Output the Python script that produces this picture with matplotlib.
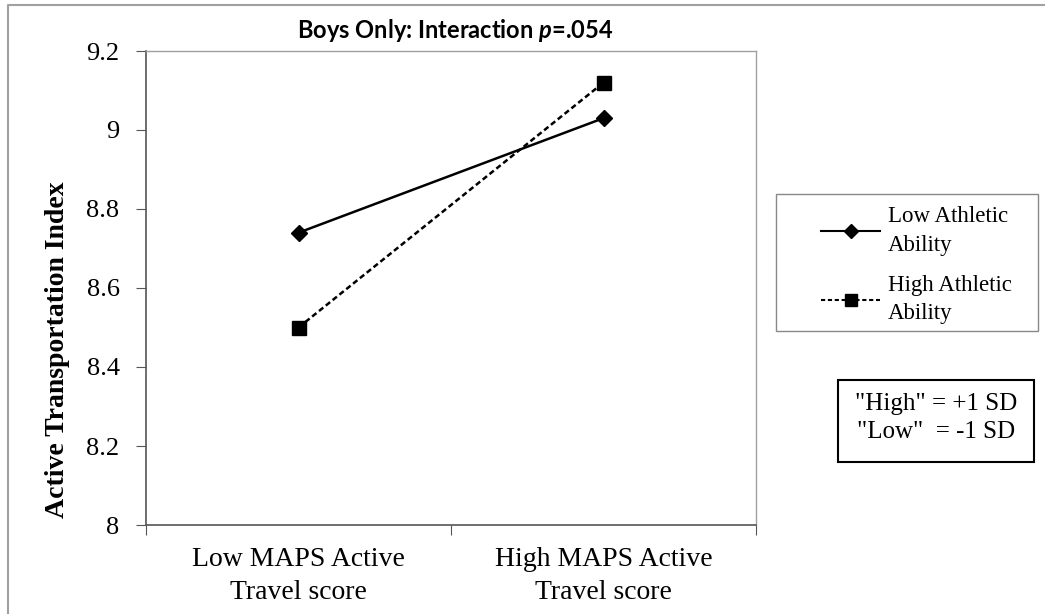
import matplotlib.pyplot as plt
import matplotlib.patches as patches
from matplotlib.lines import Line2D

categories = ["Low MAPS Active\nTravel score", "High MAPS Active\nTravel score"]
low_athletic = [8.74, 9.03]
high_athletic = [8.50, 9.12]
series_names = ["Low Athletic\nAbility", "High Athletic\nAbility"]
yticks = [8, 8.2, 8.4, 8.6, 8.8, 9, 9.2]
ytick_labels = ["8", "8.2", "8.4", "8.6", "8.8", "9", "9.2"]

plt.rcParams["font.family"] = "Liberation Serif"
plt.rcParams["mathtext.fontset"] = "custom"
plt.rcParams["mathtext.it"] = "Lato:italic:bold"
plt.rcParams["mathtext.bf"] = "Lato:bold"
plt.rcParams["mathtext.rm"] = "Lato:bold"

W, H = 1045, 614
fig = plt.figure(figsize=(W / 100, H / 100), dpi=100)
ax = fig.add_axes([146 / W, 1 - 525 / H, 610 / W, 474 / H])

x = [0.5, 1.5]
dash = (0, (2.2, 1.3))
ax.plot(x, low_athletic, color="black", lw=1.8, marker="D", ms=8.5)
ax.plot(x, high_athletic, color="black", lw=1.8, ls=dash, marker="s", ms=10)

ax.set_xlim(0, 2)
ax.set_ylim(8, 9.2)
ax.set_xticks([0, 1, 2])
ax.set_xticklabels([])
ax.set_xticks(x, minor=True)
ax.set_xticklabels(categories, minor=True, fontsize=20)
ax.tick_params(axis="x", which="minor", length=0, pad=16)
ax.tick_params(axis="x", which="major", length=7, direction="out", color="#555555")
ax.set_yticks(yticks)
ax.set_yticklabels(ytick_labels, fontsize=19)
ax.tick_params(axis="y", length=7, direction="out", color="#555555", pad=12)
for t in ax.get_xticklabels(minor=True):
    t.set_linespacing(1.4)

for s in ["top", "right"]:
    ax.spines[s].set_color("#a0a0a0")
    ax.spines[s].set_linewidth(1)
for s in ["left", "bottom"]:
    ax.spines[s].set_color("#555555")
    ax.spines[s].set_linewidth(1.2)

fig.text(58 / W, 1 - 350 / H, "Active Transportation Index", rotation=90,
         ha="center", va="center", fontsize=20, fontweight="bold")

fig.text(455 / W, 1 - 31 / H, "Boys Only: Interaction $\\it{p}$=.054",
         ha="center", va="center", fontfamily="Lato", fontsize=17, fontweight="bold")

# legend box
fig.patches.append(patches.Rectangle((776 / W, 1 - 331 / H), 262 / W, 137 / H,
                                     transform=fig.transFigure, fill=False,
                                     ec="#888888", lw=1))
handles = [
    Line2D([], [], color="black", lw=1.5, marker="D", ms=7),
    Line2D([], [], color="black", lw=1.5, ls=(0, (2, 1.3)), marker="s", ms=9),
]
leg = fig.legend(handles, series_names, loc="upper left",
                 bbox_to_anchor=(810 / W, 1 - 195 / H),
                 prop={"size": 16.5}, frameon=False, handlelength=2.55,
                 labelspacing=0.85, borderpad=0, handletextpad=0.35)
for t in leg.get_texts():
    t.set_linespacing(1.45)

# note box
fig.patches.append(patches.Rectangle((838 / W, 1 - 462 / H), 196 / W, 82 / H,
                                     transform=fig.transFigure, fill=False,
                                     ec="black", lw=1.5))
fig.text(936 / W, 1 - 418 / H, "\"High\" = +1 SD\n\"Low\"  = -1 SD",
         ha="center", va="center", fontsize=18, linespacing=1.4)

# outer frame (top and left edges)
fig.lines.append(Line2D([8 / W, 8 / W, 1], [0, 1 - 5 / H, 1 - 5 / H],
                        transform=fig.transFigure, color="#a0a0a0", lw=1.5))

fig.savefig("out.png", dpi=100)
